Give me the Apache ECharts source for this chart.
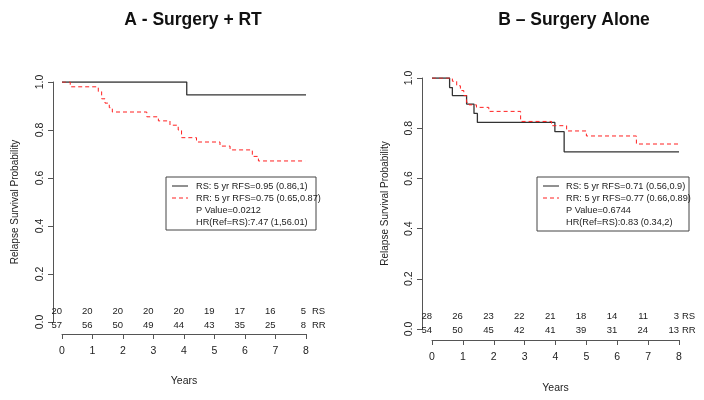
<!DOCTYPE html>
<html>
<head>
<meta charset="utf-8">
<script src="https://cdn.jsdelivr.net/npm/echarts@6/dist/echarts.min.js"></script>
<style>html,body{margin:0;padding:0;background:#fff}#c{width:704px;height:400px}</style>
</head>
<body>
<div id="c"></div>
<script>
// ---- Data ----
const titleA = 'A - Surgery + RT';
const titleB = 'B \u2013 Surgery Alone';
const yLabel = 'Relapse Survival Probability';
const xLabel = 'Years';

// Panel A (Surgery + RT)
const aRsTimes = [0, 4.09, 8.0];
const aRsSurv  = [1, 0.946, 0.946];
const aRrTimes = [0, 0.27, 1.19, 1.3, 1.41, 1.55, 1.65, 2.78, 3.16, 3.54, 3.81, 3.92, 4.41, 5.18, 5.51, 6.24, 6.44, 7.97];
const aRrSurv  = [1, 0.98, 0.96, 0.93, 0.912, 0.893, 0.875, 0.855, 0.838, 0.82, 0.80, 0.768, 0.75, 0.733, 0.717, 0.69, 0.671, 0.671];

// Panel B (Surgery Alone)
const bRsTimes = [0, 0.57, 0.66, 1.12, 1.36, 1.47, 3.98, 4.28, 8.0];
const bRsSurv  = [1, 0.962, 0.93, 0.896, 0.859, 0.823, 0.786, 0.706, 0.706];
const bRrTimes = [0, 0.66, 0.8, 0.92, 1.03, 1.12, 1.2, 1.44, 1.84, 2.87, 3.87, 4.36, 5.0, 6.62, 7.97];
const bRrSurv  = [1, 0.987, 0.969, 0.95, 0.93, 0.903, 0.893, 0.883, 0.867, 0.827, 0.81, 0.789, 0.769, 0.737, 0.737];

// Numbers at risk
const riskTimes = [0, 1, 2, 3, 4, 5, 6, 7, 8];
const aRiskRS = [20, 20, 20, 20, 20, 19, 17, 16, 5];
const aRiskRR = [57, 56, 50, 49, 44, 43, 35, 25, 8];
const bRiskRS = [28, 26, 23, 22, 21, 18, 14, 11, 3];
const bRiskRR = [54, 50, 45, 42, 41, 39, 31, 24, 13];
const riskRowNames = ['RS', 'RR'];

// Legend texts
const aLegend = ['RS: 5 yr RFS=0.95 (0.86,1)', 'RR: 5 yr RFS=0.75 (0.65,0.87)', 'P Value=0.0212', 'HR(Ref=RS):7.47 (1,56.01)'];
const bLegend = ['RS: 5 yr RFS=0.71 (0.56,0.9)', 'RR: 5 yr RFS=0.77 (0.66,0.89)', 'P Value=0.6744', 'HR(Ref=RS):0.83 (0.34,2)'];

// ---- Chart ----
const FONT = '"Liberation Sans", Arial, sans-serif';
const TXT = '#222';
const AX = '#555';
const zip = (t, v) => t.map((x, i) => [x, v[i]]);

function xAxisCfg(gi, off, gap) {
  return {
    gridIndex: gi, type: 'value', min: 0, max: 8, interval: 1, offset: off,
    name: xLabel, nameLocation: 'middle', nameGap: gap,
    nameTextStyle: { fontFamily: FONT, fontSize: 10.5, color: TXT },
    axisLine: { show: true, onZero: false, lineStyle: { color: AX, width: 1 } },
    axisTick: { show: true, length: 5, lineStyle: { color: AX } },
    axisLabel: { fontFamily: FONT, fontSize: 10.5, color: TXT, margin: 12 },
    splitLine: { show: false }
  };
}
function yAxisCfg(gi, off, gap) {
  return {
    gridIndex: gi, type: 'value', min: 0, max: 1, interval: 0.2, offset: off,
    name: yLabel, nameLocation: 'middle', nameGap: gap, nameRotate: 90,
    nameTextStyle: { fontFamily: FONT, fontSize: 10, color: TXT },
    axisLine: { show: true, onZero: false, lineStyle: { color: AX, width: 1 } },
    axisTick: { show: true, length: 5, lineStyle: { color: AX } },
    axisLabel: { fontFamily: FONT, fontSize: 10.5, color: TXT, rotate: 90, margin: 7,
                 formatter: v => v.toFixed(1) },
    splitLine: { show: false }
  };
}
function stepSeries(gi, data, color, dashed) {
  return {
    type: 'line', xAxisIndex: gi, yAxisIndex: gi, step: 'end', data: data,
    symbol: 'none', silent: true, animation: false,
    lineStyle: { color: color, width: dashed ? 1 : 1.3, type: dashed ? [4, 3] : 'solid' }
  };
}
function riskSeries(gi, rs, rr, dyRS, dyRR, nameDx) {
  const data = [];
  riskTimes.forEach((t, i) => {
    data.push([t, 0, rs[i], 0]);
    data.push([t, 0, rr[i], 1]);
  });
  data.push([8, 0, riskRowNames[0], 2]);
  data.push([8, 0, riskRowNames[1], 3]);
  return {
    type: 'custom', xAxisIndex: gi, yAxisIndex: gi, silent: true, animation: false,
    clip: false, data: data,
    renderItem: function (params, api) {
      const p = api.coord([api.value(0), 0]);
      const kind = api.value(3);
      const txt = String(data[params.dataIndex][2]);
      const dy = (kind === 0 || kind === 2) ? dyRS : dyRR;
      const isName = kind >= 2;
      return {
        type: 'text',
        x: isName ? p[0] + nameDx : p[0],
        y: p[1] + dy,
        style: { text: txt, fontFamily: FONT, fontSize: 9.5, fill: TXT,
                 textAlign: isName ? 'left' : 'right', textVerticalAlign: 'middle' }
      };
    }
  };
}
function legendGraphic(x, y, w, h, lines, textX) {
  const els = [];
  els.push({ type: 'rect', shape: { x: x, y: y, width: w, height: h },
             style: { fill: '#fff', stroke: '#444', lineWidth: 1 }, z: 10 });
  const rowY = [y + 9, y + 21, y + 33, y + 45];
  els.push({ type: 'line', shape: { x1: x + 6, y1: rowY[0], x2: x + 22, y2: rowY[0] },
             style: { stroke: '#222', lineWidth: 1 }, z: 11 });
  els.push({ type: 'line', shape: { x1: x + 6, y1: rowY[1], x2: x + 22, y2: rowY[1] },
             style: { stroke: '#ff2020', lineWidth: 1, lineDash: [4, 3] }, z: 11 });
  lines.forEach((t, i) => {
    els.push({ type: 'text', x: textX, y: rowY[i], z: 11,
               style: { text: t, fontFamily: FONT, fontSize: 9.2, fill: TXT,
                        textAlign: 'left', textVerticalAlign: 'middle' } });
  });
  return els;
}

const chart = echarts.init(document.getElementById('c'), null, { renderer: 'canvas' });
chart.setOption({
  backgroundColor: '#fff',
  animation: false,
  title: [
    { text: titleA, left: 188, top: 6, textAlign: 'center',
      textStyle: { fontFamily: FONT, fontSize: 17.5, fontWeight: 'bold', color: '#111' } },
    { text: titleB, left: 569, top: 6, textAlign: 'center',
      textStyle: { fontFamily: FONT, fontSize: 17.5, fontWeight: 'bold', color: '#111' } }
  ],
  grid: [
    { left: 62, top: 82, width: 244, height: 240 },
    { left: 432, top: 78, width: 247, height: 251 }
  ],
  xAxis: [xAxisCfg(0, 12, 42), xAxisCfg(1, 11, 43)],
  yAxis: [yAxisCfg(0, 9, 33), yAxisCfg(1, 10, 32)],
  series: [
    stepSeries(0, zip(aRsTimes, aRsSurv), '#333', false),
    stepSeries(0, zip(aRrTimes, aRrSurv), '#ff2020', true),
    stepSeries(1, zip(bRsTimes, bRsSurv), '#333', false),
    stepSeries(1, zip(bRrTimes, bRrSurv), '#ff2020', true),
    riskSeries(0, aRiskRS, aRiskRR, -11, 3, 6),
    riskSeries(1, bRiskRS, bRiskRR, -13, 1, 3)
  ],
  graphic: [].concat(
    legendGraphic(166, 177, 150, 53, aLegend, 196),
    legendGraphic(537, 177, 152, 54, bLegend, 566)
  )
});
</script>
</body>
</html>
